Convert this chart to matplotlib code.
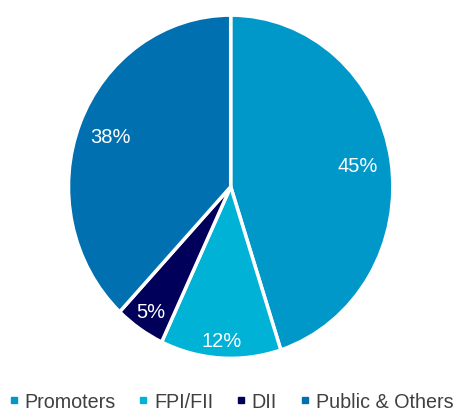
import matplotlib
matplotlib.use("Agg")
import matplotlib.pyplot as plt
from matplotlib.lines import Line2D

labels = ['Promoters', 'FPI/FII', 'DII', 'Public & Others']
shares = [45, 12, 5, 38]
colors = ['#0098C8', '#00B2D6', '#00005A', '#0070B0']
label_dist = [0.79, 0.90, 0.88, 0.80]

plt.rcParams['font.family'] = ['Liberation Sans', 'DejaVu Sans']

fig = plt.figure(figsize=(4.59, 4.14), dpi=100)
# the reference pie is slightly taller than wide, so no equal aspect
ax = fig.add_axes([0.1464, 0.1287, 0.7124, 0.8357])

wedges, texts, autotexts = ax.pie(
    shares, colors=colors, startangle=90, counterclock=False,
    autopct='%d%%', pctdistance=0.8,
    wedgeprops=dict(edgecolor='white', linewidth=2.5),
    textprops=dict(color='white', fontsize=14.5))

# push each percentage label out to where it sits in the reference
for t, d in zip(autotexts, label_dist):
    x, y = t.get_position()
    t.set_position((x / 0.8 * d, y / 0.8 * d))

ax.set_xlim(-1.008, 1.008)
ax.set_ylim(-1.008, 1.008)
ax.set_aspect('auto')

handles = [Line2D([], [], marker='s', linestyle='', markersize=5,
                  markerfacecolor=c, markeredgecolor=c) for c in colors]
fig.legend(handles, labels, loc='center', bbox_to_anchor=(0.5, 0.028),
           ncol=4, frameon=False, fontsize=14.2, handletextpad=0.15,
           handlelength=0.8, columnspacing=1.0, labelcolor='#404040')

fig.savefig('out.png', dpi=100)
